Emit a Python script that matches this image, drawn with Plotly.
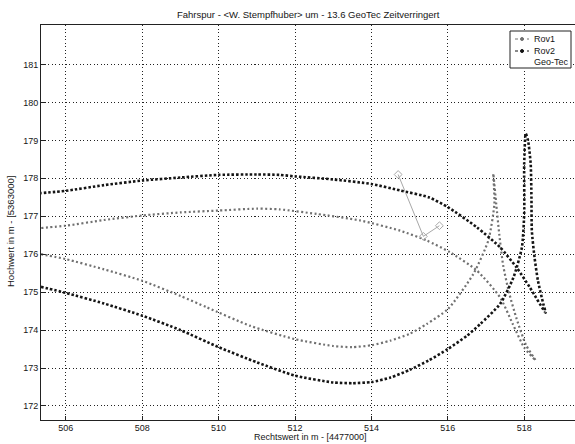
import plotly.graph_objects as go

# Rov1 (gray): lower-left curve -> peak -> descent -> upper return (reversed)
rov1_x = [505.35, 506.0, 507.0, 508.0, 509.0, 509.69, 510.83, 512.0, 513.0, 513.5, 514.0, 514.49, 515.0,
          515.45, 516.0, 516.67, 517.06, 517.22, 517.19,
          517.27, 517.35, 517.45, 517.6, 517.8, 518.05, 518.3,
          518.0, 517.7, 517.37, 516.76, 516.06, 515.45, 514.75, 513.7, 512.57, 511.6, 511.0, 510.0,
          509.0, 508.0, 507.0, 506.0, 505.35]
rov1_y = [176.0, 175.87, 175.6, 175.3, 174.9, 174.6, 174.11, 173.76, 173.58, 173.55, 173.6, 173.72, 173.9,
          174.16, 174.55, 175.48, 176.36, 177.33, 178.12,
          177.3, 176.5, 175.7, 175.0, 174.3, 173.6, 173.2,
          173.54, 174.16, 174.86, 175.57, 176.05, 176.36, 176.62, 176.89, 177.06, 177.18, 177.2, 177.15,
          177.1, 177.02, 176.9, 176.75, 176.69]

# Rov2 (dark): lower-left curve -> peak -> descent -> upper return (reversed)
rov2_x = [505.35, 506.0, 507.0, 508.0, 509.0, 510.0, 511.0, 512.0, 513.0, 513.5, 514.0, 514.5, 515.0,
          515.5, 516.0, 516.5, 516.85, 517.37, 517.72, 517.94, 518.0, 518.0, 518.04,
          518.1, 518.17, 518.19, 518.2, 518.27, 518.36, 518.5, 518.56,
          518.15, 517.8, 517.37, 516.76, 516.0, 515.5, 514.75, 514.0, 513.0, 512.0, 511.6, 511.0,
          510.0, 509.0, 508.0, 507.0, 506.0, 505.35]
rov2_y = [175.14, 174.98, 174.7, 174.38, 174.0, 173.55, 173.15, 172.8, 172.62, 172.6, 172.63, 172.75, 172.95,
          173.2, 173.5, 173.85, 174.16, 174.69, 175.39, 176.18, 177.06, 178.38, 179.18,
          179.0, 178.38, 177.5, 176.62, 175.92, 175.3, 174.69, 174.46,
          175.12, 175.65, 176.18, 176.71, 177.24, 177.5, 177.68, 177.85, 177.97, 178.05, 178.09, 178.1,
          178.09, 178.02, 177.94, 177.82, 177.67, 177.61]

# Geo-Tec (thin gray with diamonds)
geo_x = [514.7, 515.36, 515.78]
geo_y = [178.1, 176.47, 176.75]

x_ticks = [506, 508, 510, 512, 514, 516, 518]
y_ticks = [172, 173, 174, 175, 176, 177, 178, 179, 180, 181]
legend_names = ["Rov1", "Rov2", "Geo-Tec"]

title = "Fahrspur - &lt;W. Stempfhuber&gt; um - 13.6 GeoTec Zeitverringert"
xlabel = "Rechtswert in m - [4477000]"
ylabel = "Hochwert in m - [5363000]"

ROV1_C = "#707070"
ROV2_C = "#141414"
GEO_C = "#a8a8a8"
TXT_C = "#151515"
FONT = "Liberation Sans, Arial, sans-serif"
FS = 9

fig = go.Figure()
fig.add_trace(go.Scatter(x=rov1_x, y=rov1_y, name=legend_names[0], mode="lines",
                         line=dict(color=ROV1_C, width=2.2, dash="2px,2.5px", shape="spline", smoothing=0.6)))
fig.add_trace(go.Scatter(x=rov2_x, y=rov2_y, name=legend_names[1], mode="lines",
                         line=dict(color=ROV2_C, width=2.6, dash="2.5px,2px", shape="spline", smoothing=0.6)))
fig.add_trace(go.Scatter(x=geo_x, y=geo_y, name=legend_names[2], mode="lines+markers",
                         line=dict(color=GEO_C, width=1),
                         marker=dict(symbol="diamond-open", size=6, color=GEO_C)))

# plot area in pixels
L, R, T, B = 41, 575, 25, 420
PW, PH = R - L, B - T


def px(xp):
    return (xp - L) / PW


def py(yp):
    return 1 - (yp - T) / PH


shapes = []
annotations = []
# manual MATLAB-style legend
shapes.append(dict(type="rect", xref="paper", yref="paper", x0=px(510), x1=px(571), y0=py(68), y1=py(31),
                   line=dict(color="#222", width=1), fillcolor="white", layer="above"))
rows = [39, 51, 62]
styles = [(ROV1_C, True, "dot"), (ROV2_C, True, "dot"), (GEO_C, False, "solid")]
for name, yp, (col, dotm, dash) in zip(legend_names, rows, styles):
    if dotm:
        shapes.append(dict(type="line", xref="paper", yref="paper", x0=px(515), x1=px(529), y0=py(yp), y1=py(yp),
                           line=dict(color=col, width=1, dash=dash), layer="above"))
        shapes.append(dict(type="circle", xref="paper", yref="paper", x0=px(520.5), x1=px(523.5),
                           y0=py(yp + 1.5), y1=py(yp - 1.5), line=dict(color=col, width=1), fillcolor=col,
                           layer="above"))
    annotations.append(dict(text=name, xref="paper", yref="paper", x=px(533), y=py(yp), xanchor="left",
                            yanchor="middle", showarrow=False, borderpad=0,
                            font=dict(size=FS, family=FONT, color=TXT_C)))

annotations.append(dict(text=xlabel, xref="paper", yref="paper", x=px(310), y=py(437), xanchor="center",
                        yanchor="middle", showarrow=False, borderpad=0,
                        font=dict(size=FS, family=FONT, color=TXT_C)))
annotations.append(dict(text=ylabel, xref="paper", yref="paper", x=px(10), y=py(232), xanchor="center",
                        yanchor="middle", textangle=-90, showarrow=False, borderpad=0,
                        font=dict(size=FS + 0.5, family=FONT, color=TXT_C)))
annotations.append(dict(text=title, xref="paper", yref="paper", x=px(308), y=py(14), xanchor="center",
                        yanchor="middle", showarrow=False, borderpad=0,
                        font=dict(size=FS + 0.5, family=FONT, color=TXT_C)))

fig.update_layout(
    width=575, height=444,
    margin=dict(l=L, r=0, t=T, b=444 - B),
    paper_bgcolor="white", plot_bgcolor="white",
    font=dict(family=FONT, size=FS, color=TXT_C),
    showlegend=False,
    hovermode=False,
    shapes=shapes,
    annotations=annotations,
    xaxis=dict(range=[505.35, 519.33], tickvals=x_ticks, ticktext=[str(v) for v in x_ticks],
               showgrid=True, gridcolor="#222", griddash="1px,2.5px", gridwidth=1,
               showline=True, linecolor="#222", linewidth=1, mirror=True,
               ticks="inside", ticklen=4, tickcolor="#222", zeroline=False, ticklabelstandoff=-1,
               tickfont=dict(size=FS, family=FONT, color=TXT_C)),
    yaxis=dict(range=[171.63, 182.04], tickvals=y_ticks, ticktext=[str(v) for v in y_ticks],
               showgrid=True, gridcolor="#222", griddash="1px,2.5px", gridwidth=1,
               showline=True, linecolor="#222", linewidth=1, mirror=False,
               ticks="inside", ticklen=4, tickcolor="#222", zeroline=False,
               tickfont=dict(size=FS, family=FONT, color=TXT_C)),
)

fig.write_html("out.html", config={"displayModeBar": False, "staticPlot": True},
               post_script="document.body.style.margin='0';document.body.style.overflow='hidden';")
